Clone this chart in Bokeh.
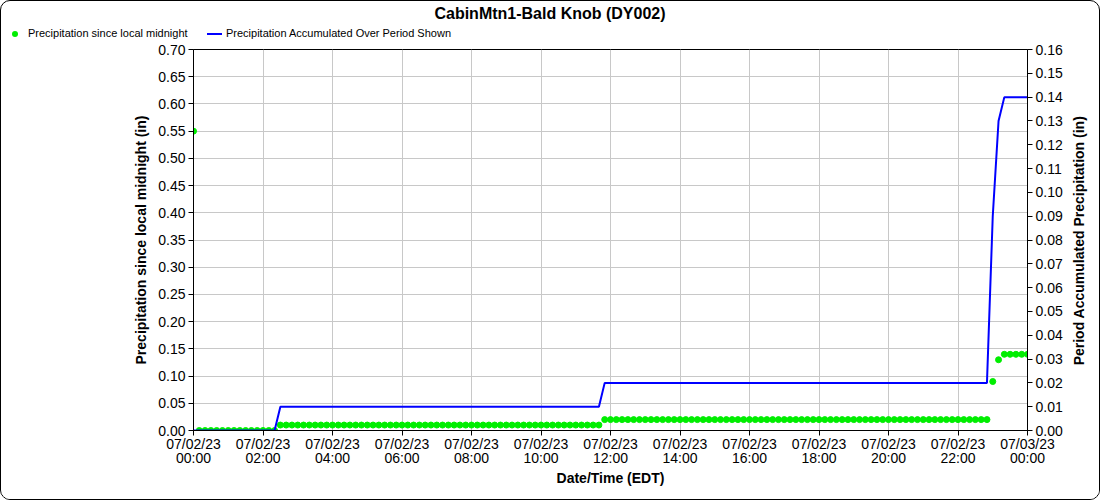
import math
import pandas as pd
from bokeh.plotting import figure
from bokeh.layouts import column
from bokeh.models import (Range1d, LinearAxis, FixedTicker, Div, Label,
                          NumeralTickFormatter, ColumnDataSource)
from bokeh.embed import file_html
from bokeh.resources import INLINE

chart_title = "CabinMtn1-Bald Knob (DY002)"
series_names = ["Precipitation since local midnight",
                "Precipitation Accumulated Over Period Shown"]
x_title = "Date/Time (EDT)"
left_title = "Precipitation since local midnight (in)"
right_title = "Period Accumulated Precipitation (in)"

# 10-minute observation times, 07/02/23 00:00 .. 07/03/23 00:00
times = pd.date_range("2023-07-02 00:00", "2023-07-03 00:00", freq="10min")
hours = list((times - times[0]) / pd.Timedelta(hours=1))

since_midnight = [
    0.55,
    0.00, 0.00, 0.00, 0.00, 0.00, 0.00, 0.00, 0.00, 0.00, 0.00, 0.00, 0.00, 0.00, 0.00,
    0.01, 0.01, 0.01, 0.01, 0.01, 0.01, 0.01, 0.01, 0.01, 0.01, 0.01, 0.01, 0.01, 0.01,
    0.01, 0.01, 0.01, 0.01, 0.01, 0.01, 0.01, 0.01, 0.01, 0.01, 0.01, 0.01, 0.01, 0.01,
    0.01, 0.01, 0.01, 0.01, 0.01, 0.01, 0.01, 0.01, 0.01, 0.01, 0.01, 0.01, 0.01, 0.01,
    0.01, 0.01, 0.01, 0.01, 0.01, 0.01, 0.01, 0.01, 0.01, 0.01, 0.01, 0.01, 0.01, 0.01,
    0.02, 0.02, 0.02, 0.02, 0.02, 0.02, 0.02, 0.02, 0.02, 0.02, 0.02, 0.02, 0.02, 0.02,
    0.02, 0.02, 0.02, 0.02, 0.02, 0.02, 0.02, 0.02, 0.02, 0.02, 0.02, 0.02, 0.02, 0.02,
    0.02, 0.02, 0.02, 0.02, 0.02, 0.02, 0.02, 0.02, 0.02, 0.02, 0.02, 0.02, 0.02, 0.02,
    0.02, 0.02, 0.02, 0.02, 0.02, 0.02, 0.02, 0.02, 0.02, 0.02, 0.02, 0.02, 0.02, 0.02,
    0.02, 0.02, 0.02, 0.02, 0.02, 0.02, 0.02, 0.02, 0.02, 0.02, 0.02,
    0.09, 0.13,
    0.14, 0.14, 0.14, 0.14, 0.14,
]

period_accum = [
    0.00,
    0.00, 0.00, 0.00, 0.00, 0.00, 0.00, 0.00, 0.00, 0.00, 0.00, 0.00, 0.00, 0.00, 0.00,
    0.01, 0.01, 0.01, 0.01, 0.01, 0.01, 0.01, 0.01, 0.01, 0.01, 0.01, 0.01, 0.01, 0.01,
    0.01, 0.01, 0.01, 0.01, 0.01, 0.01, 0.01, 0.01, 0.01, 0.01, 0.01, 0.01, 0.01, 0.01,
    0.01, 0.01, 0.01, 0.01, 0.01, 0.01, 0.01, 0.01, 0.01, 0.01, 0.01, 0.01, 0.01, 0.01,
    0.01, 0.01, 0.01, 0.01, 0.01, 0.01, 0.01, 0.01, 0.01, 0.01, 0.01, 0.01, 0.01, 0.01,
    0.02, 0.02, 0.02, 0.02, 0.02, 0.02, 0.02, 0.02, 0.02, 0.02, 0.02, 0.02, 0.02, 0.02,
    0.02, 0.02, 0.02, 0.02, 0.02, 0.02, 0.02, 0.02, 0.02, 0.02, 0.02, 0.02, 0.02, 0.02,
    0.02, 0.02, 0.02, 0.02, 0.02, 0.02, 0.02, 0.02, 0.02, 0.02, 0.02, 0.02, 0.02, 0.02,
    0.02, 0.02, 0.02, 0.02, 0.02, 0.02, 0.02, 0.02, 0.02, 0.02, 0.02, 0.02, 0.02, 0.02,
    0.02, 0.02, 0.02, 0.02, 0.02, 0.02, 0.02, 0.02, 0.02, 0.02, 0.02,
    0.09, 0.13,
    0.14, 0.14, 0.14, 0.14, 0.14,
]

x_ticks = [0, 2, 4, 6, 8, 10, 12, 14, 16, 18, 20, 22, 24]
x_tick_labels = ["07/02/23\n00:00", "07/02/23\n02:00", "07/02/23\n04:00", "07/02/23\n06:00",
                 "07/02/23\n08:00", "07/02/23\n10:00", "07/02/23\n12:00", "07/02/23\n14:00",
                 "07/02/23\n16:00", "07/02/23\n18:00", "07/02/23\n20:00", "07/02/23\n22:00",
                 "07/03/23\n00:00"]
left_ticks = [0.00, 0.05, 0.10, 0.15, 0.20, 0.25, 0.30, 0.35, 0.40, 0.45, 0.50, 0.55,
              0.60, 0.65, 0.70]
right_ticks = [0.00, 0.01, 0.02, 0.03, 0.04, 0.05, 0.06, 0.07, 0.08, 0.09, 0.10, 0.11,
               0.12, 0.13, 0.14, 0.15, 0.16]

FONT = "Liberation Sans"
GREEN = "#00ee00"
BLUE = "#0000ff"
W = 1098
HEAD_H = 40
MAIN_H = 458

src = ColumnDataSource(dict(x=hours, a=since_midnight, b=period_accum))

# ---------- header: title + legend (HTML) ----------
header_html = f"""
<div style="position:relative;width:{W}px;height:{HEAD_H}px;font-family:'{FONT}',Arial,sans-serif;color:#000;">
  <div style="position:absolute;left:0;top:3px;width:{W}px;text-align:center;font-weight:bold;font-size:16px;line-height:20px;white-space:nowrap;">{chart_title}</div>
  <span style="position:absolute;left:11px;top:30px;width:6px;height:6px;border-radius:3px;background:{GREEN};"></span>
  <span style="position:absolute;left:27px;top:26px;font-size:11px;line-height:13px;white-space:nowrap;">{series_names[0]}</span>
  <span style="position:absolute;left:206px;top:32px;width:15px;height:2px;background:{BLUE};"></span>
  <span style="position:absolute;left:225px;top:26px;font-size:11px;line-height:13px;white-space:nowrap;">{series_names[1]}</span>
</div>
"""
hdr = Div(text=header_html, width=W, height=HEAD_H, margin=0)

# ---------- main chart ----------
p = figure(width=W, height=MAIN_H, output_backend="svg", toolbar_location=None,
           x_range=Range1d(0, 24), y_range=Range1d(0, 0.70),
           min_border_left=192, min_border_right=72, min_border_top=8, min_border_bottom=69)
p.extra_y_ranges = {"right": Range1d(0, 0.16)}
p.outline_line_color = "black"
p.outline_line_width = 1
p.background_fill_color = "white"
p.border_fill_color = "white"

r_pts = p.scatter("x", "a", source=src, size=6, fill_color=GREEN, line_color=GREEN)
r_line = p.line("x", "b", source=src, y_range_name="right", line_color=BLUE, line_width=2)

raxis = LinearAxis(y_range_name="right")
p.add_layout(raxis, "right")

p.xaxis.ticker = FixedTicker(ticks=x_ticks)
p.xaxis.major_label_overrides = {t: lab for t, lab in zip(x_ticks, x_tick_labels)}
p.xaxis.axis_label = x_title
p.yaxis[0].ticker = FixedTicker(ticks=left_ticks)
p.yaxis[0].formatter = NumeralTickFormatter(format="0.00")
p.yaxis[0].axis_label = left_title
raxis.ticker = FixedTicker(ticks=right_ticks)
raxis.formatter = NumeralTickFormatter(format="0.00")

for ax in [p.xaxis[0], p.yaxis[0], raxis]:
    ax.major_label_text_font = FONT
    ax.major_label_text_font_size = "14px"
    ax.major_label_text_color = "black"
    ax.axis_label_text_font = FONT
    ax.axis_label_text_font_size = "14px"
    ax.axis_label_text_font_style = "bold"
    ax.axis_label_text_color = "black"
    ax.axis_line_color = "black"
    ax.major_tick_line_color = "black"
    ax.major_tick_out = 5
    ax.major_tick_in = 0
    ax.minor_tick_line_color = None
    ax.major_label_standoff = 3
    ax.axis_label_standoff = 6
p.xaxis.major_label_standoff = 0
p.xaxis.major_label_text_line_height = 0.88
p.xaxis.axis_label_standoff = 1

# right-hand axis title, reading bottom-to-top like the left one
rlab = Label(x=13, y=190, x_units="screen", y_units="screen", text=right_title,
             angle=math.pi / 2, text_align="center", text_baseline="middle",
             text_font=FONT, text_font_size="14px", text_font_style="bold",
             text_color="black")
p.add_layout(rlab, "right")

p.xgrid.ticker = FixedTicker(ticks=x_ticks)
p.ygrid.ticker = FixedTicker(ticks=left_ticks)
p.grid.grid_line_color = "#c8c8c8"
p.grid.grid_line_width = 1

page = column(hdr, p, spacing=0,
              styles={"border": "1px solid black", "border-radius": "10px",
                      "overflow": "hidden", "background": "white"})

open("out.html", "w").write(file_html(page, INLINE))
